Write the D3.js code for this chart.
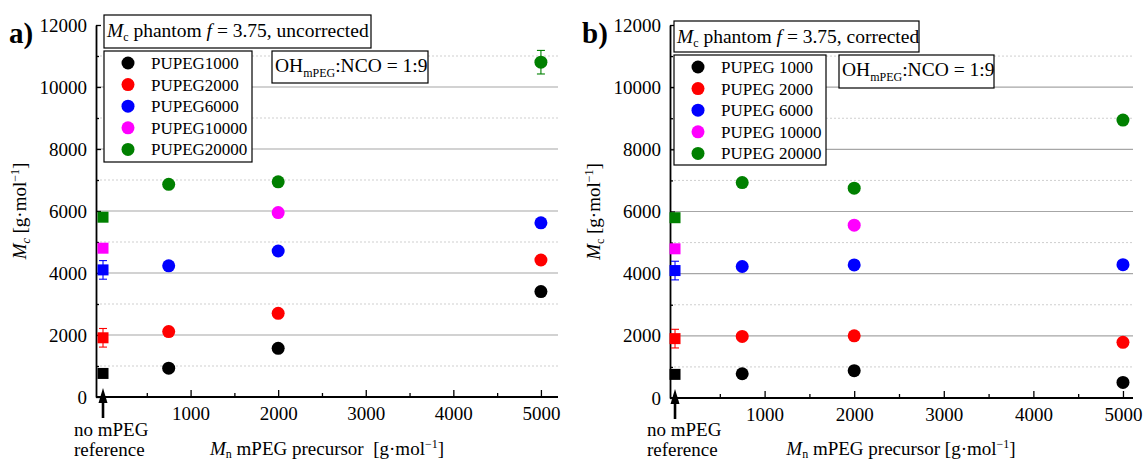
<!DOCTYPE html>
<html><head><meta charset="utf-8">
<script src="https://cdn.jsdelivr.net/npm/d3@7"></script>
<style>
body{margin:0;background:#fff;}
svg{display:block;}
svg text{fill:#000;font-family:"Liberation Serif","Times New Roman",serif;}
</style></head>
<body><svg id="chart" width="1143" height="462"></svg>
<script>
// ---------- data ----------
const seriesNamesA = ["PUPEG1000","PUPEG2000","PUPEG6000","PUPEG10000","PUPEG20000"];
const seriesNamesB = ["PUPEG 1000","PUPEG 2000","PUPEG 6000","PUPEG 10000","PUPEG 20000"];
const seriesColors = ["#000000","#ff0000","#0000ff","#ff00ff","#008000"];
const refX = 0;                                    // "no mPEG reference"
const refValues = [760, 1910, 4100, 4800, 5800];
const refErrors = [0, 300, 300, 0, 0];
const mpegX = [750, 2000, 5000];
// panel a: uncorrected
const uncorr1000  = [930, 1570, 3400];
const uncorr2000  = [2110, 2700, 4420];
const uncorr6000  = [4230, 4710, 5620];
const uncorr10000 = [null, 5950, null];
const uncorr20000 = [6860, 6940, 10800];
const uncorr20000Err = [0, 0, 380];
// panel b: corrected
const corr1000  = [780, 880, 500];
const corr2000  = [1980, 2000, 1790];
const corr6000  = [4230, 4280, 4290];
const corr10000 = [null, 5560, null];
const corr20000 = [6930, 6750, 8940];
const corr20000Err = [0, 0, 0];
const xTickLabels = [1000, 2000, 3000, 4000, 5000];
const xMinorTicks = [500, 1500, 2500, 3500, 4500];
const yTickLabels = [0, 2000, 4000, 6000, 8000, 10000, 12000];
const yMinorTicks = [1000, 3000, 5000, 7000, 9000, 11000];

const svg = d3.select("#chart");

function drawPanel(o){
  const g = svg.append("g");
  const x = d3.scaleLinear().domain(o.xDomain).range(o.xRange);
  const y = d3.scaleLinear().domain([0, 12000]).range(o.yRange);
  const [x0, x1] = o.xRange;

  // grid
  g.selectAll(".gmaj").data(yTickLabels.filter(v => v > 0 && v < 12000)).join("line")
    .attr("x1", x0).attr("x2", x1).attr("y1", d => y(d)).attr("y2", d => y(d))
    .attr("stroke", "#a6a6a6").attr("stroke-width", 1.2);
  g.selectAll(".gmin").data(yMinorTicks).join("line")
    .attr("x1", x0).attr("x2", x1).attr("y1", d => y(d)).attr("y2", d => y(d))
    .attr("stroke", "#cfcfcf").attr("stroke-width", 1).attr("stroke-dasharray", "2,2");

  // axes
  const xAxis = d3.axisBottom(x).tickValues(xTickLabels).tickFormat(d3.format("d"))
    .tickSizeInner(-7).tickSizeOuter(0).tickPadding(10);
  const gx = g.append("g").attr("transform", `translate(0,${o.yRange[0]})`).call(xAxis);
  gx.select(".domain").attr("d", `M${x0},0H${x1}`);
  const xMinor = d3.axisBottom(x).tickValues(xMinorTicks).tickFormat("").tickSizeInner(-4).tickSizeOuter(0);
  const gxm = g.append("g").attr("transform", `translate(0,${o.yRange[0]})`).call(xMinor);
  gxm.select(".domain").remove();

  const yAxis = d3.axisLeft(y).tickValues(yTickLabels).tickFormat(d3.format("d"))
    .tickSizeInner(-5).tickSizeOuter(0).tickPadding(9);
  const gy = g.append("g").attr("transform", `translate(${x0},0)`).call(yAxis);
  const yMinor = d3.axisLeft(y).tickValues(yMinorTicks).tickFormat("").tickSizeInner(-3).tickSizeOuter(0);
  const gym = g.append("g").attr("transform", `translate(${x0},0)`).call(yMinor);
  gym.select(".domain").remove();

  [gx, gy, gxm, gym].forEach(a => {
    a.attr("font-family", null).attr("font-size", null);
    a.selectAll("text").attr("font-size", 19);
    a.selectAll("line").attr("stroke", "#000").attr("stroke-width", 1.3);
    a.select(".domain").attr("stroke", "#000").attr("stroke-width", 1.8);
  });

  // reference points (squares + error bars)
  const refData = refValues.map((v, i) => ({v, e: refErrors[i], c: seriesColors[i]}));
  const rx = x(refX);
  refData.forEach(d => {
    if (d.e > 0) {
      const ge = g.append("g").attr("stroke", d.c).attr("stroke-width", 1.1);
      ge.append("line").attr("x1", rx).attr("x2", rx).attr("y1", y(d.v - d.e)).attr("y2", y(d.v + d.e));
      ge.append("line").attr("x1", rx - 4).attr("x2", rx + 4).attr("y1", y(d.v - d.e)).attr("y2", y(d.v - d.e));
      ge.append("line").attr("x1", rx - 4).attr("x2", rx + 4).attr("y1", y(d.v + d.e)).attr("y2", y(d.v + d.e));
    }
  });
  g.selectAll(".sq").data(refData).join("rect")
    .attr("x", rx - 5.5).attr("y", d => y(d.v) - 5.5).attr("width", 11).attr("height", 11)
    .attr("fill", d => d.c);

  // series circles
  o.series.forEach((vals, i) => {
    const errs = o.errors[i] || [];
    vals.forEach((v, j) => {
      if (v == null) return;
      const e = errs[j] || 0;
      const cx = x(mpegX[j]);
      if (e > 0) {
        const ge = g.append("g").attr("stroke", seriesColors[i]).attr("stroke-width", 1.1);
        ge.append("line").attr("x1", cx).attr("x2", cx).attr("y1", y(v - e)).attr("y2", y(v + e));
        ge.append("line").attr("x1", cx - 4).attr("x2", cx + 4).attr("y1", y(v - e)).attr("y2", y(v - e));
        ge.append("line").attr("x1", cx - 4).attr("x2", cx + 4).attr("y1", y(v + e)).attr("y2", y(v + e));
      }
      g.append("circle").attr("cx", cx).attr("cy", y(v)).attr("r", 6.5).attr("fill", seriesColors[i]);
    });
  });

  // arrow at reference
  const ay0 = o.yRange[0] - 9, ay1 = o.yRange[0] + 21;
  g.append("line").attr("x1", rx).attr("x2", rx).attr("y1", ay0 + 12).attr("y2", ay1)
    .attr("stroke", "#000").attr("stroke-width", 2.6);
  g.append("path").attr("d", `M${rx},${ay0}L${rx - 4.5},${ay0 + 15}L${rx + 4.5},${ay0 + 15}Z`).attr("fill", "#000");
  g.append("text").attr("x", o.refTextX).attr("y", 436).attr("font-size", 19).text("no mPEG");
  g.append("text").attr("x", o.refTextX).attr("y", 456).attr("font-size", 19).text("reference");

  // title box
  const tb = o.titleBox;
  g.append("rect").attr("x", tb[0]).attr("y", tb[1]).attr("width", tb[2]).attr("height", tb[3])
    .attr("fill", "#fff").attr("stroke", "#000").attr("stroke-width", 1.2);
  const tt = g.append("text").attr("x", tb[0] + 3).attr("y", tb[1] + 22).attr("font-size", 19.5).attr("xml:space", "preserve");
  tt.append("tspan").attr("font-style", "italic").text("M");
  tt.append("tspan").attr("font-size", 12).attr("dy", 4).text("c");
  tt.append("tspan").attr("dy", -4).text(" phantom ");
  tt.append("tspan").attr("font-style", "italic").text("f");
  tt.append("tspan").text(" = 3.75, " + o.titleWord);

  // OH box
  const ob = o.ohBox;
  g.append("rect").attr("x", ob[0]).attr("y", ob[1]).attr("width", ob[2]).attr("height", ob[3])
    .attr("fill", "#fff").attr("stroke", "#000").attr("stroke-width", 1.2);
  const ot = g.append("text").attr("x", ob[0] + 3).attr("y", ob[1] + 21).attr("font-size", 19.5);
  ot.append("tspan").text("OH");
  ot.append("tspan").attr("font-size", 12).attr("dy", 5).text("mPEG");
  ot.append("tspan").attr("dy", -5).text(":NCO = 1:9");

  // legend
  const lb = o.legendBox;
  g.append("rect").attr("x", lb[0]).attr("y", lb[1]).attr("width", lb[2]).attr("height", lb[3])
    .attr("fill", "#fff").attr("stroke", "#000").attr("stroke-width", 1.2);
  o.names.forEach((n, i) => {
    const cy = lb[1] + 12 + i * 21.6;
    g.append("circle").attr("cx", lb[0] + 24).attr("cy", cy).attr("r", 6.5).attr("fill", seriesColors[i]);
    g.append("text").attr("x", lb[0] + 47).attr("y", cy + 6).attr("font-size", 17).text(n);
  });

  // axis titles
  const yt = g.append("text").attr("transform", `translate(${o.yTitleX},${(o.yRange[0] + o.yRange[1]) / 2}) rotate(-90)`)
    .attr("text-anchor", "middle").attr("font-size", 19);
  yt.append("tspan").attr("font-style", "italic").text("M");
  yt.append("tspan").attr("font-size", 12).attr("dy", 4).attr("font-style", o.subItalic ? "italic" : "normal").text("c");
  yt.append("tspan").attr("dy", -4).text(" [g·mol");
  yt.append("tspan").attr("font-size", 12).attr("dy", -7).text("−1");
  yt.append("tspan").attr("dy", 7).text("]");

  const xt = g.append("text").attr("x", o.xTitleX).attr("y", 455).attr("text-anchor", "middle")
    .attr("font-size", 19).attr("xml:space", "preserve");
  xt.append("tspan").attr("font-style", "italic").text("M");
  xt.append("tspan").attr("font-size", 12).attr("dy", 3).text("n");
  xt.append("tspan").attr("dy", -3).text(o.xTitleMid);
  xt.append("tspan").attr("font-size", 12).attr("dy", -7).text("−1");
  xt.append("tspan").attr("dy", 7).text("]");

  // panel label
  g.append("text").attr("x", o.labelX).attr("y", 43).attr("font-size", 29).attr("font-weight", "bold").text(o.label);
}

drawPanel({
  xDomain: [-80, 5195], xRange: [96, 558], yRange: [397, 25],
  series: [uncorr1000, uncorr2000, uncorr6000, uncorr10000, uncorr20000],
  errors: [[], [], [], [], uncorr20000Err],
  names: seriesNamesA, titleWord: "uncorrected",
  titleBox: [104, 15, 267, 33], ohBox: [272, 51, 156, 32], legendBox: [104, 51, 148, 111],
  refTextX: 74, yTitleX: 26, subItalic: true, xTitleX: 327,
  xTitleMid: " mPEG precursor  [g·mol", label: "a)", labelX: 9
});
drawPanel({
  xDomain: [-56, 5112], xRange: [670, 1133], yRange: [398, 25],
  series: [corr1000, corr2000, corr6000, corr10000, corr20000],
  errors: [[], [], [], [], corr20000Err],
  names: seriesNamesB, titleWord: "corrected",
  titleBox: [674, 21, 245, 31], ohBox: [839, 55, 155, 33], legendBox: [674, 55, 152, 110],
  refTextX: 647, yTitleX: 600, subItalic: false, xTitleX: 901,
  xTitleMid: " mPEG precursor [g·mol", label: "b)", labelX: 582
});
</script></body></html>
